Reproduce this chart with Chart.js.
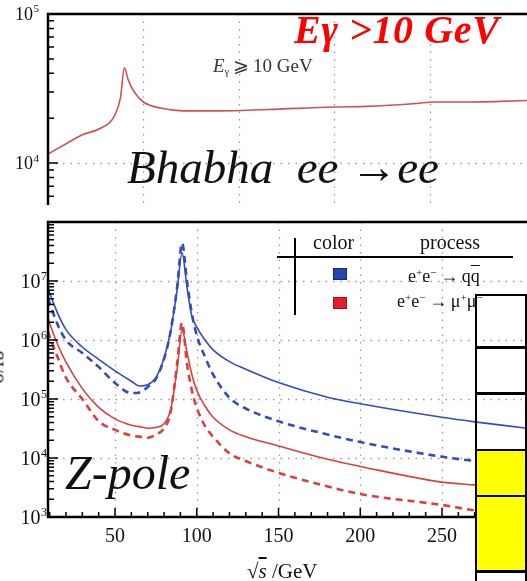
<!DOCTYPE html>
<html>
<head>
<meta charset="utf-8">
<script src="https://cdn.jsdelivr.net/npm/chart.js@4.4.1/dist/chart.umd.min.js"></script>
<style>
  html, body { margin: 0; padding: 0; background: #fff; overflow: hidden; }
  body { width: 527px; height: 581px; position: relative; font-family: "Liberation Serif", "DejaVu Serif", serif; color: #111; }
  canvas { position: absolute; left: 0; }
  #bhabha { top: 0; }
  #zpole { top: 205px; }
  .txt { position: absolute; white-space: nowrap; line-height: 1; }
  .sp { font-size: 0.62em; vertical-align: 0.5em; line-height: 0; }
  .cell { position: absolute; left: 475px; width: 52px; border: 2.5px solid #000; box-sizing: border-box; }
  .bar { position: absolute; background: #000; }
</style>
</head>
<body>
<canvas id="bhabha" width="527" height="205"></canvas>
<canvas id="zpole" width="527" height="376"></canvas>

<div class="txt" style="left:-20px; top:357px; font-size:20px; transform:rotate(-90deg);">σ/fb</div>
<div class="txt" style="left:213px; top:56px; font-size:19px; color:#333;"><i>E</i><span style="font-size:11px; vertical-align:-3px; line-height:0">γ</span>&thinsp;⩾&thinsp;10&nbsp;GeV</div>

<!-- legend table -->
<div class="txt" style="left:313px; top:232px; font-size:20px;">color</div>
<div class="txt" style="left:420px; top:232px; font-size:20px;">process</div>
<div class="bar" style="left:277px; top:256px; width:236px; height:1.5px;"></div>
<div class="bar" style="left:294px; top:238px; width:1.5px; height:77px;"></div>
<div id="sqQQ" style="position:absolute; left:333px; top:268px; width:14px; height:12px;"></div>
<div id="sqMM" style="position:absolute; left:333px; top:297px; width:14px; height:12px;"></div>
<div class="txt" style="left:408px; top:267px; font-size:18px;">e<span class="sp">+</span>e<span class="sp">−</span>&thinsp;→&thinsp;q<span style="text-decoration:overline">q</span></div>
<div class="txt" style="left:397px; top:292px; font-size:18px;">e<span class="sp">+</span>e<span class="sp">−</span>&thinsp;→&thinsp;μ<span class="sp">+</span>μ<span class="sp">−</span></div>

<!-- boxes on the right edge -->
<div class="cell" style="top:294px; height:55px;"></div>
<div class="cell" style="top:345.5px; height:49px;"></div>
<div class="cell" style="top:392px; height:60px;"></div>
<div class="cell" style="top:448.5px; height:48.5px; background:#ff0;"></div>
<div class="cell" style="top:494.5px; height:78px; background:#ff0;"></div>
<div class="cell" style="top:570px; height:20px;"></div>

<div class="txt" style="left:294px; top:10px; font-size:40px; letter-spacing:0.6px; font-weight:bold; font-style:italic; color:#f00;">Eγ &gt;10 GeV</div>
<div class="txt" style="left:127px; top:144px; font-size:47px; font-style:italic;">Bhabha&nbsp; ee →ee</div>
<div class="txt" style="left:65px; top:449px; font-size:48px; font-style:italic;">Z-pole</div>
<div class="txt" style="left:247px; top:561px; font-size:21px;">√<span style="text-decoration:overline"><i>s</i></span> /GeV</div>

<script>
// top panel: Bhabha ee -> ee with E_gamma >= 10 GeV
const bhabhaX = [0, 10, 18, 27, 35, 38, 40, 42, 45, 50, 59, 71, 89, 115, 150, 167, 193, 202, 220, 251];
const bhabhaY = [11500, 13600, 15500, 17000, 20900, 27500, 43600, 36300, 30200, 25700, 23400, 22400, 22400, 22900, 23800, 24000, 25100, 25700, 25700, 26300];

// bottom panel: sqrt(s) in GeV, shared by the four curves
const sqrtS = [9, 10, 15, 20, 30, 40, 50, 60, 65, 70, 75, 80, 84, 88, 91, 94, 97, 100, 105, 110, 120, 130, 150, 180, 200, 250, 270, 302];
const qqSolid = [7.9e6, 6.3e6, 2.8e6, 1.5e6, 7.6e5, 4.7e5, 3.0e5, 2.0e5, 1.66e5, 1.74e5, 2.3e5, 5.0e5, 1.4e6, 7.1e6, 3.0e7, 7.9e6, 2.5e6, 1.66e6, 1.0e6, 6.8e5, 4.3e5, 3.2e5, 1.9e5, 1.07e5, 8.3e4, 4.9e4, 4.1e4, 3.2e4];
const qqDashed = [5.0e6, 4.2e6, 1.8e6, 1.0e6, 6.0e5, 3.5e5, 1.86e5, 1.26e5, 1.29e5, 1.6e5, 2.2e5, 4.8e5, 1.4e6, 7.9e6, 4.4e7, 1.0e7, 2.8e6, 1.2e6, 5.2e5, 2.6e5, 1.05e5, 6.9e4, 4.2e4, 2.5e4, 1.86e4, 1.05e4, 8.9e3, 7.2e3];
const mmSolid = [2.3e6, 1.9e6, 8.3e5, 4.2e5, 1.5e5, 7.2e4, 4.6e4, 3.6e4, 3.4e4, 3.2e4, 3.3e4, 3.8e4, 6.6e4, 3.2e5, 1.5e6, 6.3e5, 2.6e5, 1.4e5, 7.6e4, 4.9e4, 3.0e4, 2.3e4, 1.6e4, 9.5e3, 7.2e3, 3.9e3, 3.5e3, 3.0e3];
const mmDashed = [1.4e6, 1.15e6, 5.0e5, 2.3e5, 1.0e5, 4.2e4, 3.0e4, 2.4e4, 2.3e4, 2.2e4, 2.5e4, 3.2e4, 6.0e4, 4.0e5, 1.95e6, 4.0e5, 1.4e5, 7.1e4, 3.5e4, 2.3e4, 1.2e4, 8.9e3, 5.6e3, 3.3e3, 2.45e3, 1.6e3, 1.3e3, 1.1e3];

// axis ticks
const bhabhaDecades = [1e4, 1e5];
const zDecades = [1e3, 1e4, 1e5, 1e6, 1e7, 1e8];
const zDecadeLabels = [1e3, 1e4, 1e5, 1e6, 1e7];
const xTickLabels = [50, 100, 150, 200, 250];

const blue = 'rgb(55,75,185)';
const red = 'rgb(215,65,65)';
document.getElementById('sqQQ').style.cssText += ';background:rgb(40,70,175);border:1px solid rgb(20,40,120);box-sizing:border-box';
document.getElementById('sqMM').style.cssText += ';background:rgb(230,30,40);border:1px solid rgb(160,20,30);box-sizing:border-box';

function minorsOf(decades) {
  const out = [];
  decades.forEach(d => { for (let m = 2; m <= 9; m++) out.push(m * d); });
  return out;
}

function drawPow(ctx, right, base, exp, size) {
  ctx.font = Math.round(size * 0.62) + 'px "Liberation Serif"';
  const ew = ctx.measureText(exp).width;
  ctx.fillText(exp, right - ew, base - size * 0.42);
  ctx.font = size + 'px "Liberation Serif"';
  const bw = ctx.measureText('10').width;
  ctx.fillText('10', right - ew - bw - 0.5, base);
}

const axisFrame = {
  id: 'axisFrame',
  beforeDatasetsDraw(chart, args, o) {
    const { ctx, chartArea: a, scales: { x, y } } = chart;
    ctx.save();
    ctx.strokeStyle = '#9a9a9a';
    ctx.lineWidth = 1.3;
    ctx.setLineDash([1.5, 6]);
    ctx.beginPath();
    o.xGrid.forEach(v => {
      const p = Math.round(x.getPixelForValue(v)) + 0.5;
      ctx.moveTo(p, a.top); ctx.lineTo(p, a.bottom);
    });
    o.yGrid.forEach(v => {
      const p = Math.round(y.getPixelForValue(v)) + 0.5;
      ctx.moveTo(a.left, p); ctx.lineTo(a.right, p);
    });
    ctx.stroke();
    ctx.restore();
  },
  afterDatasetsDraw(chart, args, o) {
    const { ctx, chartArea: a, scales: { x, y } } = chart;
    ctx.save();
    ctx.strokeStyle = '#000';
    ctx.lineWidth = 1.5;
    ctx.beginPath();
    const yTick = (v, len) => {
      const p = y.getPixelForValue(v);
      if (p < a.top - 1 || p > a.bottom + 1) return;
      ctx.moveTo(a.left, p); ctx.lineTo(a.left + len, p);
    };
    o.yMinor.forEach(v => yTick(v, 6));
    o.yMajor.forEach(v => yTick(v, 10));
    if (o.bottom) {
      for (let v = 10; v <= 300; v += 10) {
        const p = x.getPixelForValue(v);
        ctx.moveTo(p, a.bottom); ctx.lineTo(p, a.bottom - (v % 50 === 0 ? 9 : 5));
      }
    }
    ctx.stroke();

    ctx.lineWidth = 2.5;
    ctx.beginPath();
    ctx.moveTo(a.right + 2, a.top);
    ctx.lineTo(a.left, a.top);
    ctx.lineTo(a.left, o.bottom ? a.bottom : chart.height);
    if (o.bottom) ctx.lineTo(a.right + 2, a.bottom);
    ctx.stroke();

    ctx.fillStyle = '#111';
    ctx.textBaseline = 'alphabetic';
    ctx.textAlign = 'left';
    o.yLabels.forEach(v => {
      const p = y.getPixelForValue(v);
      drawPow(ctx, o.labelRight, p + o.labelDy, String(Math.round(Math.log10(v))), o.labelSize);
    });
    if (o.bottom) {
      ctx.font = '20px "Liberation Serif"';
      ctx.textAlign = 'center';
      xTickLabels.forEach(v => ctx.fillText(String(v), x.getPixelForValue(v), a.bottom + 25));
    }
    ctx.restore();
  }
};

function lineSet(xs, ys, color, dashed) {
  return {
    data: xs.map((v, i) => ({ x: v, y: ys[i] })),
    borderColor: color,
    borderWidth: dashed ? 2.6 : 1.6,
    borderDash: dashed ? [7, 5] : [],
    pointRadius: 0,
    cubicInterpolationMode: 'monotone',
    fill: false
  };
}

new Chart(document.getElementById('bhabha'), {
  type: 'line',
  data: { datasets: [lineSet(bhabhaX, bhabhaY, 'rgb(200,85,85)', false)] },
  options: {
    responsive: false,
    animation: false,
    events: [],
    layout: { padding: { left: 48, top: 14, right: 0, bottom: 2 } },
    scales: {
      x: { type: 'linear', min: 0, max: 251, display: false },
      y: { type: 'logarithmic', min: 5400, max: 1e5, display: false }
    },
    plugins: {
      legend: { display: false },
      tooltip: { enabled: false },
      axisFrame: {
        xGrid: [50, 100, 150, 200], yGrid: [1e4],
        yMajor: bhabhaDecades, yMinor: minorsOf([1e3, 1e4]),
        yLabels: bhabhaDecades, labelRight: 39, labelDy: 6, labelSize: 18,
        bottom: false
      }
    }
  },
  plugins: [axisFrame]
});

new Chart(document.getElementById('zpole'), {
  type: 'line',
  data: {
    datasets: [
      lineSet(sqrtS, qqSolid, blue, false),
      lineSet(sqrtS, qqDashed, blue, true),
      lineSet(sqrtS, mmSolid, red, false),
      lineSet(sqrtS, mmDashed, red, true)
    ]
  },
  options: {
    responsive: false,
    animation: false,
    events: [],
    layout: { padding: { left: 48, top: 17, right: 0, bottom: 64 } },
    scales: {
      x: { type: 'linear', min: 9, max: 302, display: false },
      y: { type: 'logarithmic', min: 1e3, max: 1e8, display: false }
    },
    plugins: {
      legend: { display: false },
      tooltip: { enabled: false },
      axisFrame: {
        xGrid: xTickLabels, yGrid: [1e4, 1e5, 1e6, 1e7],
        yMajor: zDecades, yMinor: minorsOf(zDecades.slice(0, 5)),
        yLabels: zDecadeLabels, labelRight: 47, labelDy: 7, labelSize: 20,
        bottom: true
      }
    }
  },
  plugins: [axisFrame]
});
</script>
</body>
</html>
